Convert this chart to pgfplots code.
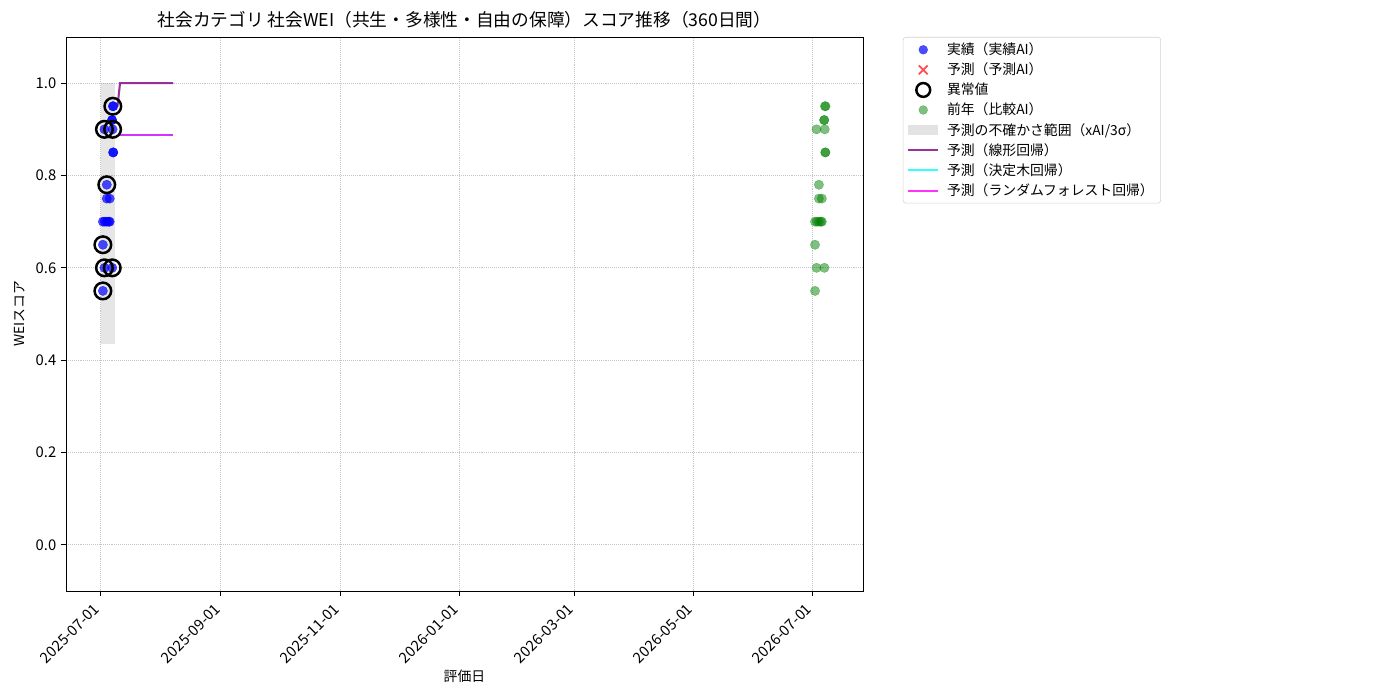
\documentclass[border=0pt]{standalone}
\usepackage{fontspec}
\setmainfont{Noto Sans CJK JP}
\usepackage{pgfplots}
\pgfplotsset{compat=1.18}
\definecolor{mplblue}{RGB}{0,0,255}
\definecolor{mplgreen}{RGB}{0,128,0}
\definecolor{mplpurple}{RGB}{128,0,128}
\definecolor{mplcyan}{RGB}{0,255,255}
\definecolor{mplmagenta}{RGB}{255,0,255}
\definecolor{mplred}{RGB}{255,0,0}
\pgfplotsset{
    dotlegend/.style={legend image code/.code={\path[draw=none, fill=none] (0pt,0pt) -- (26pt,0pt); \draw[##1] plot coordinates {(10.8pt,0pt)};}},
    linelegend/.style={legend image code/.code={\path[draw=none, fill=none] (0pt,0pt) -- (26pt,0pt); \draw[##1] (0pt,0pt) -- (21.7pt,0pt);}},
    bandlegend/.style={legend image code/.code={\path[draw=none, fill=none] (0pt,0pt) -- (26pt,0pt); \path[fill=gray, fill opacity=0.22, draw=none, sharp corners] (0pt,-3.6pt) rectangle (21.7pt,3.6pt);}},
}

% actual scores (day offset from 2025-07-01, score)
\pgfplotstableread{
day val
1.5 0.55
1.5 0.65
2.3 0.60
6.3 0.60
1.5 0.70
2.5 0.70
3.5 0.70
4.5 0.70
5.0 0.70
3.5 0.75
5.0 0.75
3.5 0.78
6.8 0.85
6.8 0.85
2.3 0.90
6.5 0.90
6.2 0.92
6.2 0.92
6.6 0.95
6.9 0.95
}\actual

% previous year, shown one year later
\pgfplotstableread{
day val
366.5 0.55
366.5 0.65
367.3 0.60
371.3 0.60
366.5 0.70
367.5 0.70
368.5 0.70
369.5 0.70
370.0 0.70
368.5 0.75
370.0 0.75
368.5 0.78
371.8 0.85
371.8 0.85
367.3 0.90
371.5 0.90
371.2 0.92
371.2 0.92
371.6 0.95
371.9 0.95
}\prevyear

\pgfplotstableread{
day val
6.6 0.95
2.3 0.90
6.5 0.90
3.5 0.78
1.5 0.65
2.3 0.60
6.3 0.60
1.5 0.55
}\outliers

\begin{document}
\begin{tikzpicture}
\path[use as bounding box] (0,0) rectangle (14in,7in);
\begin{axis}[
    at={(0.66in,1.09in)}, anchor=south west,
    scale only axis,
    width=7.97in, height=5.54in,
    xmin=-17.4, xmax=391.1,
    ymin=-0.1, ymax=1.1,
    xtick={0,62,123,184,243,304,365},
    xticklabels={2025-07-01,2025-09-01,2025-11-01,2026-01-01,2026-03-01,2026-05-01,2026-07-01},
    xticklabel style={rotate=45, anchor=north east, xshift=-3.6pt, yshift=3.6pt},
    ytick={0,0.2,0.4,0.6,0.8,1.0},
    yticklabel style={/pgf/number format/.cd, fixed, fixed zerofill, precision=1},
    /pgf/number format/assume math mode=true,
    tick label style={font=\fontsize{10.7}{12}\selectfont},
    tick align=outside, xtick pos=bottom, ytick pos=left,
    major tick length=3.5pt,
    tick style={black, line width=0.6pt},
    axis line style={line width=0.6pt},
    grid=major, grid style={densely dotted, gray!45, line width=0.6pt},
    title={社会カテゴリ 社会WEI（共生・多様性・自由の保障）スコア推移（360日間）},
    title style={at={(axis description cs:0.5,1.017)}, anchor=center, font=\fontsize{12.8}{14}\selectfont},
    xlabel={評価日},
    xlabel style={at={(axis description cs:0.5,-0.153)}, anchor=center, font=\fontsize{10}{12}\selectfont},
    ylabel={WEIスコア},
    ylabel style={at={(axis description cs:-0.0577,0.5)}, anchor=center, font=\fontsize{10}{12}\selectfont},
    legend style={at={(1.05,1)}, anchor=north west, draw=gray!35, rounded corners=2pt,
        font=\fontsize{10}{12}\selectfont, row sep=0.5pt, inner xsep=3pt, inner ysep=2pt},
    legend cell align=left,
]
% uncertainty band
\addplot[forget plot, draw=none, fill=gray, fill opacity=0.2]
    coordinates {(0.36,0.435) (7.5,0.435) (7.5,1.0) (0.36,1.0)} -- cycle;
% actual
\addplot[forget plot, only marks, mark=*, mark size=3.4pt, color=mplblue, mark options={line width=0.2pt, opacity=0.7}]
    table[x=day, y=val] {\actual};
% previous year
\addplot[forget plot, only marks, mark=*, mark size=3.4pt, color=mplgreen, mark options={line width=0.2pt, opacity=0.5}]
    table[x=day, y=val] {\prevyear};
% linear regression forecast
\addplot[forget plot, color=mplpurple, opacity=0.8, line width=1.5pt]
    coordinates {(9.0,0.95) (10.3,1.0) (37.5,1.0)};
% decision tree forecast
\addplot[forget plot, color=mplcyan, opacity=0.8, line width=1.5pt]
    coordinates {(9.0,0.888) (37.5,0.888)};
% random forest forecast
\addplot[forget plot, color=mplmagenta, opacity=0.8, line width=1.5pt]
    coordinates {(9.0,0.888) (37.5,0.888)};
% anomalies
\addplot[forget plot, only marks, mark=o, mark size=6pt, color=black, mark options={line width=1.8pt, fill=none}]
    table[x=day, y=val] {\outliers};

% legend
\addlegendimage{dotlegend, only marks, mark=*, mark size=3.2pt, color=mplblue, mark options={line width=0.2pt, opacity=0.7}}
\addlegendentry{実績（実績AI）}
\addlegendimage{dotlegend, only marks, mark=x, mark size=4.5pt, color=mplred, mark options={opacity=0.7, line width=1.3pt}}
\addlegendentry{予測（予測AI）}
\addlegendimage{dotlegend, only marks, mark=o, mark size=5pt, color=black, mark options={line width=1.8pt, fill=none}}
\addlegendentry{異常値}
\addlegendimage{dotlegend, only marks, mark=*, mark size=3.2pt, color=mplgreen, mark options={line width=0.2pt, opacity=0.5}}
\addlegendentry{前年（比較AI）}
\addlegendimage{bandlegend}
\addlegendentry{予測の不確かさ範囲（xAI/3σ）}
\addlegendimage{linelegend, color=mplpurple, opacity=0.8, line width=1.5pt}
\addlegendentry{予測（線形回帰）}
\addlegendimage{linelegend, color=mplcyan, opacity=0.8, line width=1.5pt}
\addlegendentry{予測（決定木回帰）}
\addlegendimage{linelegend, color=mplmagenta, opacity=0.8, line width=1.5pt}
\addlegendentry{予測（ランダムフォレスト回帰）}
\end{axis}
\end{tikzpicture}
\end{document}
